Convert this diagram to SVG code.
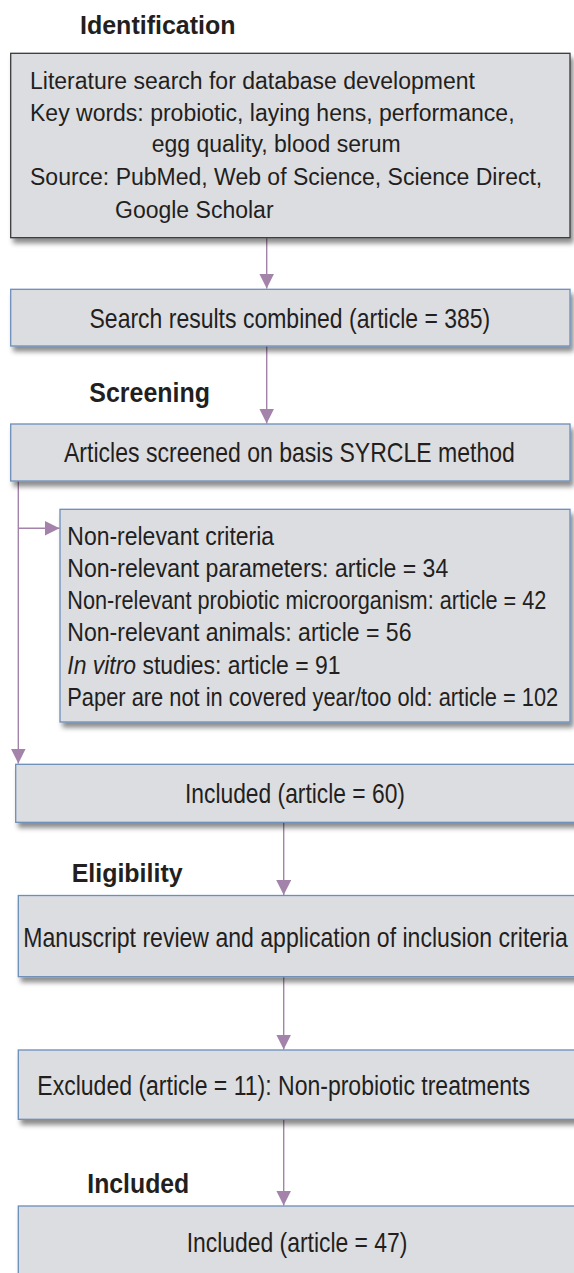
<svg xmlns="http://www.w3.org/2000/svg" width="574" height="1273" viewBox="0 0 574 1273">
<style>
.box{fill:#dcdde0;stroke:#6b8fba;stroke-width:1.3;filter:url(#sh)}
.box1{stroke:#3a3a3a}
.t{font-family:"Liberation Sans",Arial,sans-serif;fill:#231f20}
.b{font-weight:bold}
.m{font-size:27px}
.s{font-size:25px}
.conn{fill:none;stroke:#a483aa;stroke-width:1.4}
</style>
<defs>
<filter id="sh" x="-5%" y="-10%" width="115%" height="140%">
<feDropShadow dx="3" dy="5" stdDeviation="2.5" flood-color="#000" flood-opacity="0.45"/>
</filter>
<marker id="ah" viewBox="0 0 10 10" refX="10" refY="5" markerWidth="15" markerHeight="15" markerUnits="userSpaceOnUse" orient="auto">
<path d="M0,0 L10,5 L0,10 z" fill="#a483aa"/>
</marker>
</defs>
<rect width="574" height="1273" fill="#fff"/>

<g id="labels">
<text class="t b" x="80" y="33.5" font-size="25">Identification</text>
<g transform="translate(89.3,401.7) scale(0.925,1)"><text class="t b" x="0" y="0" font-size="27">Screening</text></g>
<g transform="translate(71.7,881.7) scale(0.96,1)"><text class="t b" x="0" y="0" font-size="26">Eligibility</text></g>
<g transform="translate(87.3,1193.3) scale(0.919,1)"><text class="t b" x="0" y="0" font-size="27">Included</text></g>
</g>

<g id="connectors">
<path class="conn" d="M266.7,238 V288.5" marker-end="url(#ah)"/>
<path class="conn" d="M266.7,346 V423.5" marker-end="url(#ah)"/>
<path class="conn" d="M18.3,481 V763.5" marker-end="url(#ah)"/>
<path class="conn" d="M18.3,528.3 H59.5" marker-end="url(#ah)"/>
<path class="conn" d="M283.7,822.5 V895" marker-end="url(#ah)"/>
<path class="conn" d="M283.7,977 V1049.5" marker-end="url(#ah)"/>
<path class="conn" d="M283.7,1119.5 V1205.5" marker-end="url(#ah)"/>
</g>

<g id="n1">
<rect class="box box1" x="10.7" y="53.3" width="559.3" height="184.4"/>
<text class="t" font-size="23">
<tspan x="30" y="89.3">Literature search for database development</tspan>
<tspan x="30" y="120.8">Key words: probiotic, laying hens, performance,</tspan>
<tspan x="151.7" y="152">egg quality, blood serum</tspan>
<tspan x="30" y="185">Source: PubMed, Web of Science, Science Direct,</tspan>
<tspan x="115" y="218.3">Google Scholar</tspan>
</text>
</g>

<g id="n2">
<rect class="box" x="10.7" y="289.3" width="559.3" height="56.7"/>
<g transform="translate(89.5,327.7) scale(0.852,1)"><text class="t m" x="0" y="0">Search results combined (article = 385)</text></g>
</g>

<g id="n3">
<rect class="box" x="10.7" y="424" width="559.3" height="57"/>
<g transform="translate(64,461.7) scale(0.854,1)"><text class="t m" x="0" y="0">Articles screened on basis SYRCLE method</text></g>
</g>

<g id="n4">
<rect class="box" x="60" y="509.3" width="510" height="212.7"/>
<g transform="translate(67.3,544.5) scale(0.919,1)"><text class="t s" x="0" y="0">Non-relevant criteria</text></g>
<g transform="translate(67.3,576.8) scale(0.922,1)"><text class="t s" x="0" y="0">Non-relevant parameters: article = 34</text></g>
<g transform="translate(67.3,609.1) scale(0.868,1)"><text class="t s" x="0" y="0">Non-relevant probiotic microorganism: article = 42</text></g>
<g transform="translate(67.3,641.4) scale(0.923,1)"><text class="t s" x="0" y="0">Non-relevant animals: article = 56</text></g>
<g transform="translate(67.3,673.7) scale(0.917,1)"><text class="t s" x="0" y="0"><tspan font-style="italic">In vitro</tspan> studies: article = 91</text></g>
<g transform="translate(67.3,706) scale(0.8735,1)"><text class="t s" x="0" y="0">Paper are not in covered year/too old: article = 102</text></g>
</g>

<g id="n5">
<rect class="box" x="15.7" y="764.3" width="570" height="58"/>
<g transform="translate(185,803.3) scale(0.845,1)"><text class="t m" x="0" y="0">Included (article = 60)</text></g>
</g>

<g id="n6">
<rect class="box" x="18.3" y="895.5" width="570" height="81.2"/>
<g transform="translate(23.3,946.7) scale(0.854,1)"><text class="t m" x="0" y="0">Manuscript review and application of inclusion criteria</text></g>
</g>

<g id="n7">
<rect class="box" x="18.3" y="1050" width="570" height="69.3"/>
<g transform="translate(37.3,1095) scale(0.853,1)"><text class="t m" x="0" y="0">Excluded (article = 11): Non-probiotic treatments</text></g>
</g>

<g id="n8">
<rect class="box" x="18.3" y="1206" width="570" height="80"/>
<g transform="translate(186.7,1251.7) scale(0.848,1)"><text class="t m" x="0" y="0">Included (article = 47)</text></g>
</g>
</svg>
